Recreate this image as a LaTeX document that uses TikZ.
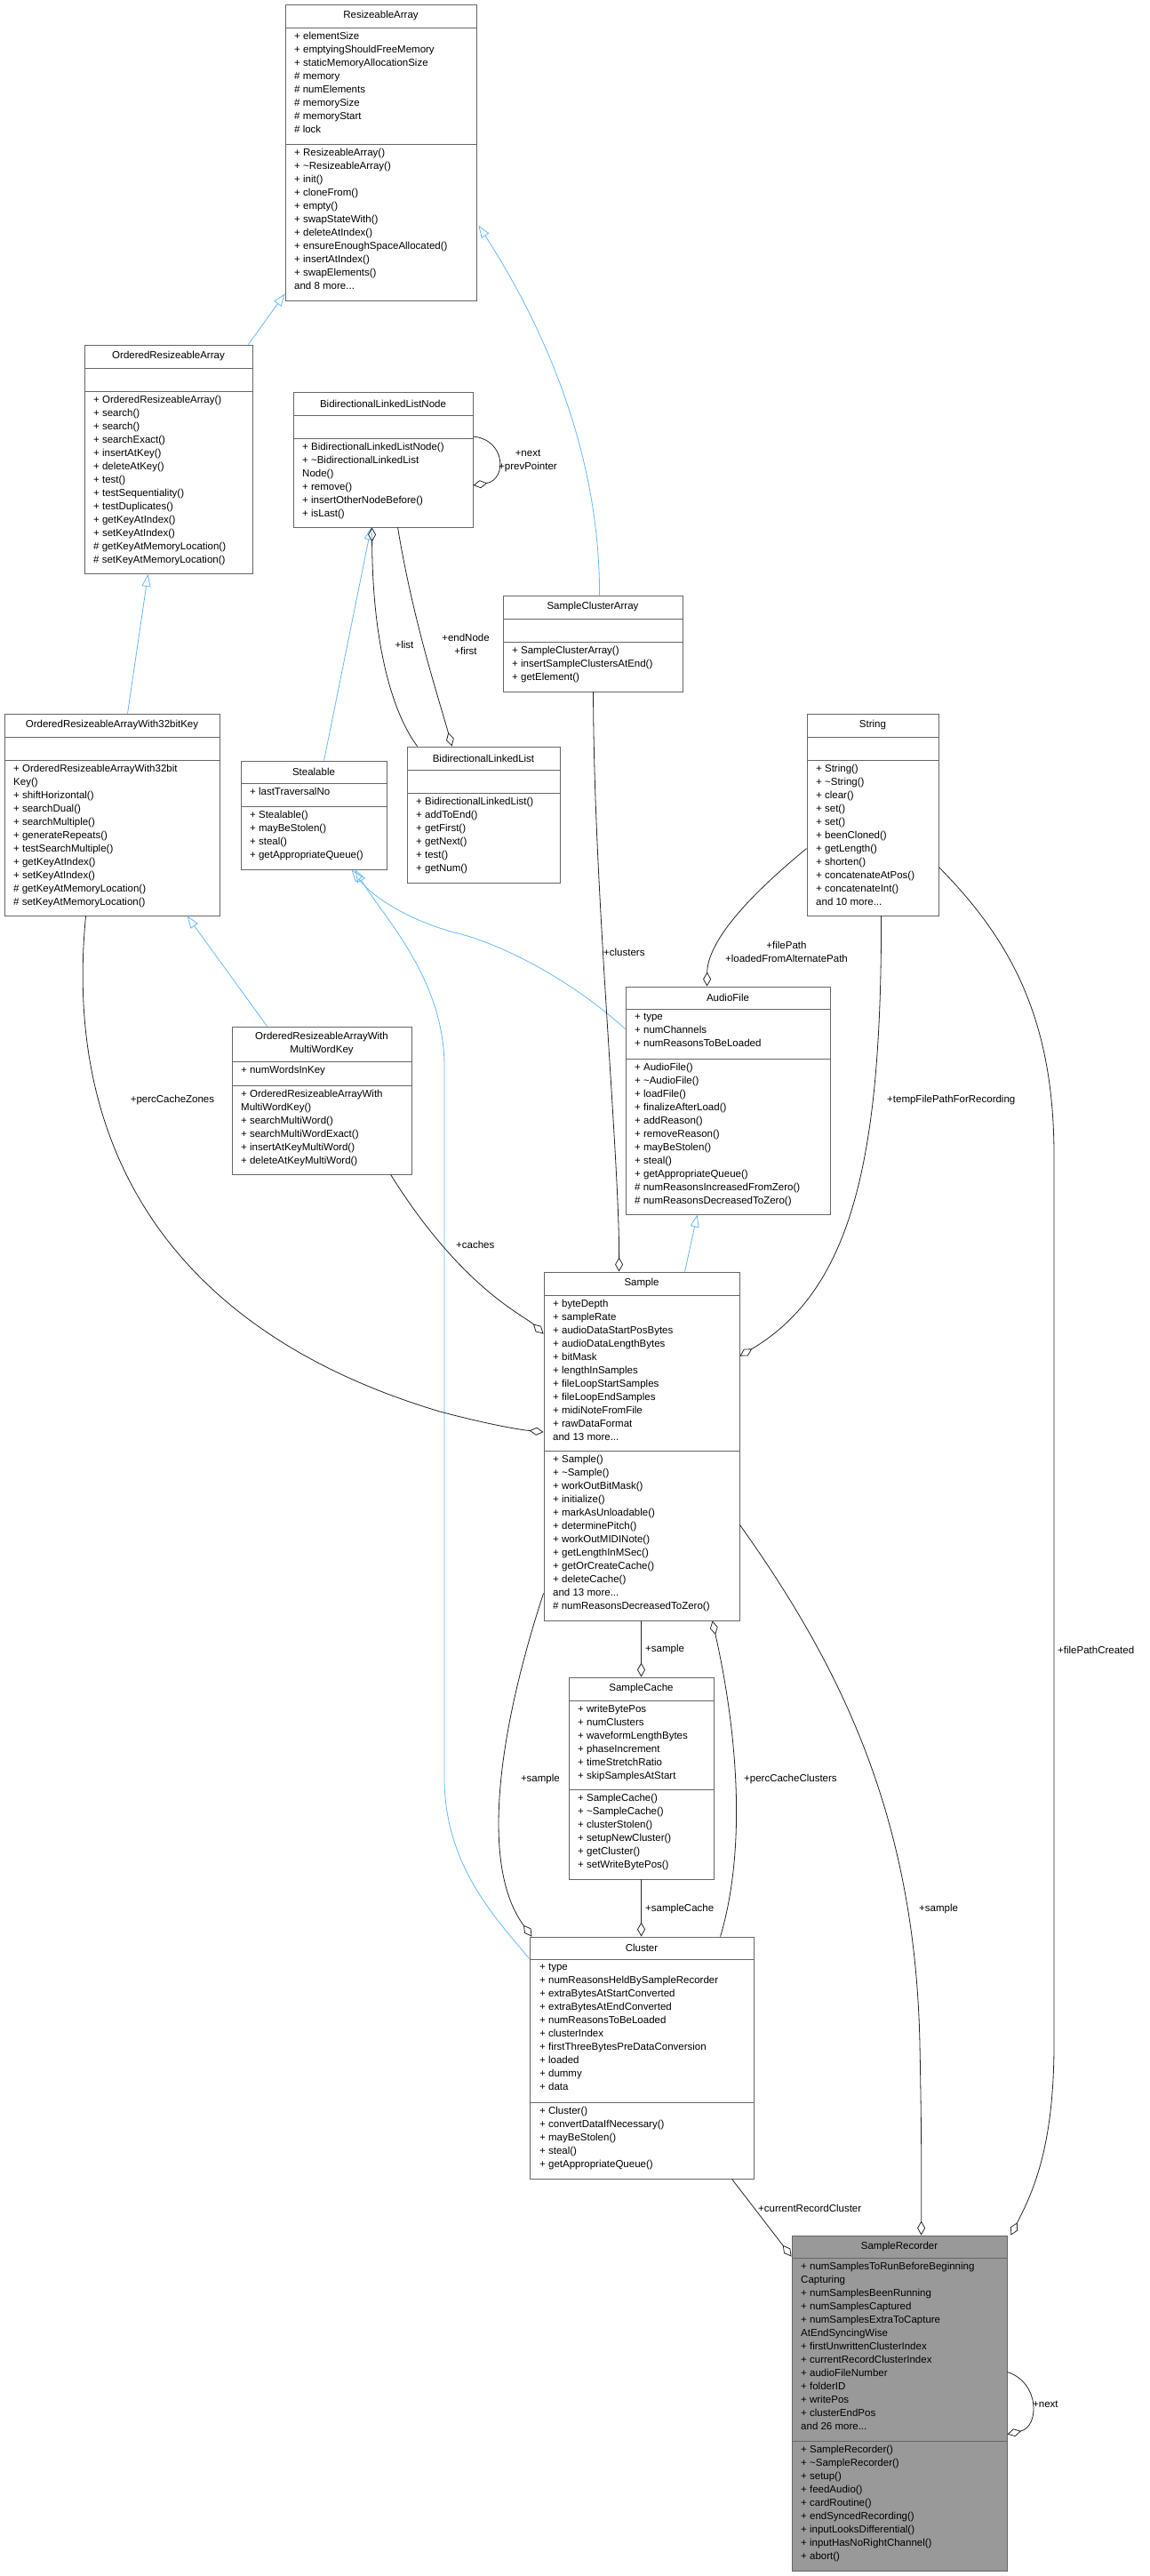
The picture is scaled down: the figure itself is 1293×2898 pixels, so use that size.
\documentclass[tikz,border=0pt]{standalone}
\usepackage{fontspec}
\setmainfont{Liberation Sans}
\usetikzlibrary{arrows.meta,calc}
\tikzset{
  boxst/.style={draw=black!60,line width=0.9pt,inner sep=0pt,rectangle},
  txt/.style={anchor=north west,align=left,inner sep=0pt,font=\fontsize{11.5}{15}\selectfont},
  ttl/.style={align=center,inner sep=0pt,font=\fontsize{11.5}{15}\selectfont},
  lbl/.style={inner sep=0pt,font=\fontsize{11.5}{15}\selectfont,align=center},
  inh/.style={draw={rgb,255:red,99;green,184;blue,255},line width=0.8pt,-{Triangle[open,length=14pt,width=10pt]}},
  agg/.style={draw=black!85,line width=0.8pt,-{Diamond[open,length=16pt,width=9pt]}},
}
\newcommand\cls[9]{%
  \node[boxst,fill=#9,minimum width={#4pt-#2pt},minimum height={#5pt-#3pt}] (#1) at ({(#2+#4)/2},{(#3+#5)/2}) {};
  \draw[black!60,line width=0.9pt] (#2,#6) -- (#4,#6);
  \draw[black!60,line width=0.9pt] (#2,#7) -- (#4,#7);
  \node[ttl] (#1-t) at ({(#2+#4)/2},{(#3+#6)/2}) {#8};
}
\begin{document}
\begin{tikzpicture}[x=1pt,y=-1pt]
\useasboundingbox (0,0) rectangle (1293,2898);
% classes
\cls{ra}{321}{5}{536}{338}{31}{162.5}{ResizeableArray}{white}
\node[txt] at (331,36) {+ elementSize\\+ emptyingShouldFreeMemory\\+ staticMemoryAllocationSize\\\# memory\\\# numElements\\\# memorySize\\\# memoryStart\\\# lock};
\node[txt] at (331,167) {+ ResizeableArray()\\+ \textasciitilde ResizeableArray()\\+ init()\\+ cloneFrom()\\+ empty()\\+ swapStateWith()\\+ deleteAtIndex()\\+ ensureEnoughSpaceAllocated()\\+ insertAtIndex()\\+ swapElements()\\and 8 more...};

\cls{ora}{95}{388}{284}{645.5}{414}{440}{OrderedResizeableArray}{white}
\node[txt] at (105,445) {+ OrderedResizeableArray()\\+ search()\\+ search()\\+ searchExact()\\+ insertAtKey()\\+ deleteAtKey()\\+ test()\\+ testSequentiality()\\+ testDuplicates()\\+ getKeyAtIndex()\\+ setKeyAtIndex()\\\# getKeyAtMemoryLocation()\\\# setKeyAtMemoryLocation()};

\cls{blln}{330}{441}{532}{593}{467}{493}{BidirectionalLinkedListNode}{white}
\node[txt] at (340,498) {+ BidirectionalLinkedListNode()\\+ \textasciitilde BidirectionalLinkedList\\Node()\\+ remove()\\+ insertOtherNodeBefore()\\+ isLast()};

\cls{sca}{566}{670}{768}{778}{696}{722}{SampleClusterArray}{white}
\node[txt] at (576,727) {+ SampleClusterArray()\\+ insertSampleClustersAtEnd()\\+ getElement()};

\cls{or32}{5}{803}{247}{1030}{829}{855}{OrderedResizeableArrayWith32bitKey}{white}
\node[txt] at (15,860) {+ OrderedResizeableArrayWith32bit\\Key()\\+ shiftHorizontal()\\+ searchDual()\\+ searchMultiple()\\+ generateRepeats()\\+ testSearchMultiple()\\+ getKeyAtIndex()\\+ setKeyAtIndex()\\\# getKeyAtMemoryLocation()\\\# setKeyAtMemoryLocation()};

\cls{st}{271}{856}{435}{978}{881}{907}{Stealable}{white}
\node[txt] at (281,886) {+ lastTraversalNo};
\node[txt] at (281,912) {+ Stealable()\\+ mayBeStolen()\\+ steal()\\+ getAppropriateQueue()};

\cls{bll}{458}{840}{630}{993}{866}{892}{BidirectionalLinkedList}{white}
\node[txt] at (468,897) {+ BidirectionalLinkedList()\\+ addToEnd()\\+ getFirst()\\+ getNext()\\+ test()\\+ getNum()};

\cls{str}{908}{803}{1056}{1030}{829}{855}{String}{white}
\node[txt] at (918,860) {+ String()\\+ \textasciitilde String()\\+ clear()\\+ set()\\+ set()\\+ beenCloned()\\+ getLength()\\+ shorten()\\+ concatenateAtPos()\\+ concatenateInt()\\and 10 more...};

\cls{af}{704}{1110}{934}{1366}{1135}{1191}{AudioFile}{white}
\node[txt] at (714,1140) {+ type\\+ numChannels\\+ numReasonsToBeLoaded};
\node[txt] at (714,1196) {+ AudioFile()\\+ \textasciitilde AudioFile()\\+ loadFile()\\+ finalizeAfterLoad()\\+ addReason()\\+ removeReason()\\+ mayBeStolen()\\+ steal()\\+ getAppropriateQueue()\\\# numReasonsIncreasedFromZero()\\\# numReasonsDecreasedToZero()};

\cls{ormw}{261}{1155}{463}{1321}{1194}{1221}{OrderedResizeableArrayWith\\MultiWordKey}{white}
\node[txt] at (271,1199) {+ numWordsInKey};
\node[txt] at (271,1226) {+ OrderedResizeableArrayWith\\MultiWordKey()\\+ searchMultiWord()\\+ searchMultiWordExact()\\+ insertAtKeyMultiWord()\\+ deleteAtKeyMultiWord()};

\cls{smp}{612}{1431}{832}{1823}{1457}{1632}{Sample}{white}
\node[txt] at (622,1462) {+ byteDepth\\+ sampleRate\\+ audioDataStartPosBytes\\+ audioDataLengthBytes\\+ bitMask\\+ lengthInSamples\\+ fileLoopStartSamples\\+ fileLoopEndSamples\\+ midiNoteFromFile\\+ rawDataFormat\\and 13 more...};
\node[txt] at (622,1637) {+ Sample()\\+ \textasciitilde Sample()\\+ workOutBitMask()\\+ initialize()\\+ markAsUnloadable()\\+ determinePitch()\\+ workOutMIDINote()\\+ getLengthInMSec()\\+ getOrCreateCache()\\+ deleteCache()\\and 13 more...\\\# numReasonsDecreasedToZero()};

\cls{sc}{640}{1887}{803}{2114}{1913}{2013}{SampleCache}{white}
\node[txt] at (650,1918) {+ writeBytePos\\+ numClusters\\+ waveformLengthBytes\\+ phaseIncrement\\+ timeStretchRatio\\+ skipSamplesAtStart};
\node[txt] at (650,2018) {+ SampleCache()\\+ \textasciitilde SampleCache()\\+ clusterStolen()\\+ setupNewCluster()\\+ getCluster()\\+ setWriteBytePos()};

\cls{cl}{596}{2179}{848}{2451}{2204}{2365}{Cluster}{white}
\node[txt] at (607,2209) {+ type\\+ numReasonsHeldBySampleRecorder\\+ extraBytesAtStartConverted\\+ extraBytesAtEndConverted\\+ numReasonsToBeLoaded\\+ clusterIndex\\+ firstThreeBytesPreDataConversion\\+ loaded\\+ dummy\\+ data};
\node[txt] at (607,2370) {+ Cluster()\\+ convertDataIfNecessary()\\+ mayBeStolen()\\+ steal()\\+ getAppropriateQueue()};

\cls{sr}{891}{2515}{1133}{2892}{2540}{2746}{SampleRecorder}{black!40}
\node[txt] at (901,2545) {+ numSamplesToRunBeforeBeginning\\Capturing\\+ numSamplesBeenRunning\\+ numSamplesCaptured\\+ numSamplesExtraToCapture\\AtEndSyncingWise\\+ firstUnwrittenClusterIndex\\+ currentRecordClusterIndex\\+ audioFileNumber\\+ folderID\\+ writePos\\+ clusterEndPos\\and 26 more...};
\node[txt] at (901,2751) {+ SampleRecorder()\\+ \textasciitilde SampleRecorder()\\+ setup()\\+ feedAudio()\\+ cardRoutine()\\+ endSyncedRecording()\\+ inputLooksDifferential()\\+ inputHasNoRightChannel()\\+ abort()};

% inheritance
\draw[inh] ($(ora.north east)+(-5,0)$) -- ($(ra.south west)+(0,-8)$);
\draw[inh] ($(sca.north west)+(109,0)$) .. controls (675,520) and (620,380) .. ($(ra.north east)+(2,249)$);
\draw[inh] ($(or32.north west)+(139,0)$) -- ($(ora.south west)+(72,0)$);
\draw[inh] ($(st.north west)+(94,0)$) -- ($(blln.south west)+(88,0)$);
\draw[inh] ($(ormw.north west)+(40,0)$) -- ($(or32.south west)+(206,0)$);
\draw[inh] ($(af.north west)+(0,48)$) .. controls (640,1100) and (560,1060) .. (511,1049) .. controls (460,1035) and (420,1010) .. ($(st.south west)+(125,0)$);
\draw[inh] ($(cl.north west)+(0,25)$) .. controls (560,2160) and (500,2100) .. (500,2000) -- (500,1200) .. controls (500,1100) and (430,1030) .. ($(st.south west)+(129,0)$);
\draw[inh] ($(smp.north west)+(159,0)$) -- ($(af.south west)+(81,0)$);

% aggregation
\draw[agg] ($(blln.east)+(0,-26)$) .. controls (570,495) and (570,540) .. ($(blln.east)+(0,29)$);
\node[lbl] at (594,518) {+next\\+prevPointer};
\draw[agg] ($(bll.north west)+(12,0)$) .. controls (440,800) and (419,720) .. ($(blln.south west)+(89,0)$);
\node[lbl] at (455,725) {+list};
\draw[agg] ($(blln.south west)+(118,0)$) .. controls (465,700) and (495,790) .. ($(bll.north west)+(51,0)$);
\node[lbl] at (524,725) {+endNode\\+first};
\draw[agg] ($(sca.south west)+(102,0)$) .. controls (668,1000) and (697,1300) .. ($(smp.north west)+(85,0)$);
\node[lbl,anchor=west] at (679,1071) {+clusters};
\draw[agg] ($(str.north west)+(0,152)$) .. controls (840,1010) and (796,1060) .. ($(af.north west)+(92,0)$);
\node[lbl] at (885,1071) {+filePath\\+loadedFromAlternatePath};
\draw[agg] ($(str.south west)+(84,0)$) .. controls (992,1300) and (960,1450) .. ($(smp.north east)+(0,95)$);
\node[lbl,anchor=west] at (998,1238) {+tempFilePathForRecording};
\draw[agg] ($(str.north east)+(0,173)$) .. controls (1140,1060) and (1186,1150) .. (1186,1300) -- (1186,2300) .. controls (1186,2420) and (1160,2470) .. ($(sr.north east)+(4,0)$);
\node[lbl,anchor=west] at (1190,1856) {+filePathCreated};
\draw[agg] ($(or32.south west)+(92,0)$) .. controls (70,1300) and (200,1500) .. (495,1588) .. controls (540,1600) and (580,1608) .. ($(smp.west)+(0,-16)$);
\node[lbl] at (194,1238) {+percCacheZones};
\draw[agg] ($(ormw.south west)+(179,0)$) .. controls (520,1450) and (590,1480) .. ($(smp.north west)+(0,70)$);
\node[lbl,anchor=west] at (513,1400) {+caches};
\draw[agg] ($(smp.south west)+(110,0)$) -- (sc.north);
\node[lbl,anchor=west] at (726,1856) {+sample};
\draw[agg] (sc.south) -- ($(cl.north west)+(126,0)$);
\node[lbl,anchor=west] at (726,2147) {+sampleCache};
\draw[agg] ($(smp.south west)+(0,-31)$) .. controls (560,1950) and (540,2100) .. ($(cl.north west)+(3,0)$);
\node[lbl,anchor=east] at (630,2002) {+sample};
\draw[agg] ($(cl.north west)+(215,0)$) .. controls (840,2080) and (830,1950) .. ($(smp.south west)+(190,0)$);
\node[lbl,anchor=west] at (837,2002) {+percCacheClusters};
\draw[agg] ($(smp.south east)+(0,-108)$) .. controls (950,1880) and (1030,2050) .. (1035,2300) .. controls (1037,2400) and (1037,2460) .. ($(sr.north west)+(146,0)$);
\node[lbl,anchor=west] at (1034,2147) {+sample};
\draw[agg] ($(cl.south west)+(228,0)$) -- ($(sr.north west)+(0,24)$);
\node[lbl,anchor=west] at (853,2484) {+currentRecordCluster};
\draw[agg] ($(sr.east)+(0,-35)$) .. controls (1170,2680) and (1170,2730) .. ($(sr.east)+(0,35)$);
\node[lbl,anchor=west] at (1162,2705) {+next};
\end{tikzpicture}
\end{document}
